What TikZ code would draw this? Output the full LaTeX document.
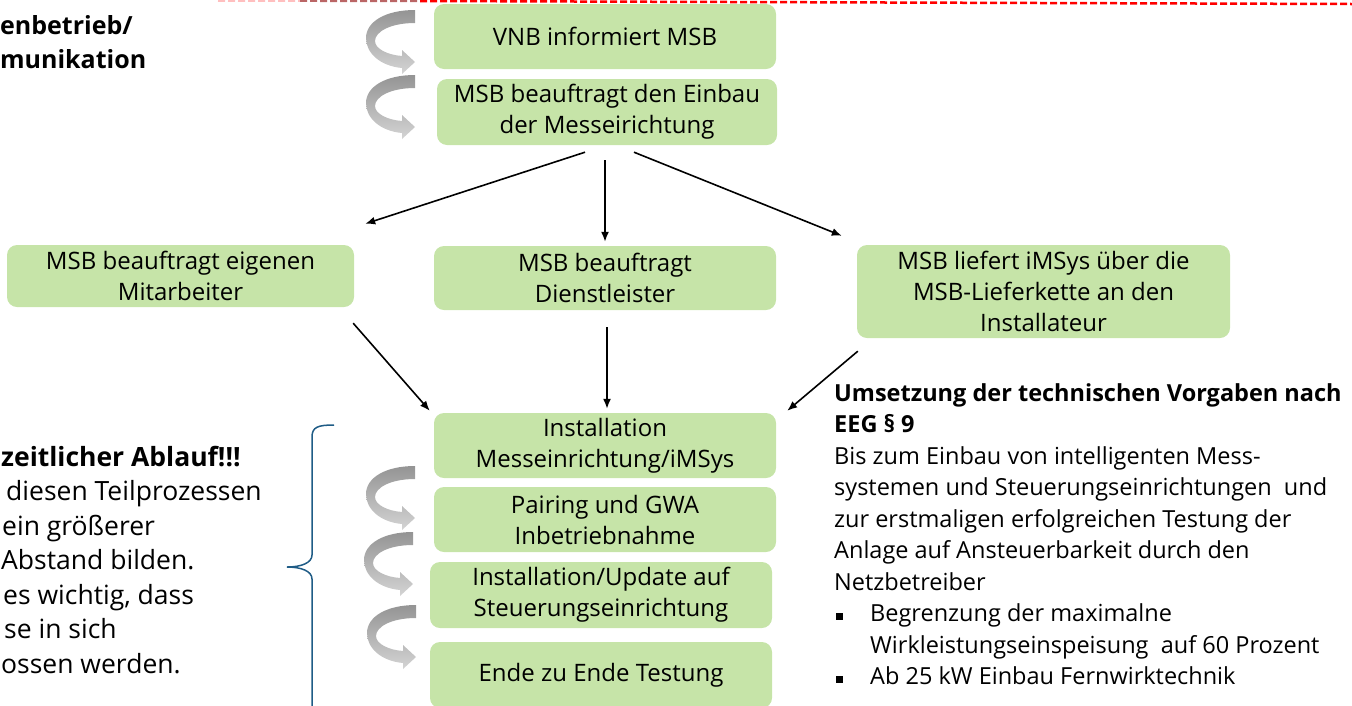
\documentclass[tikz,border=0pt]{standalone}
\usepackage{fontspec}
\setmainfont{Open Sans}
\usepackage{tikz}
\usetikzlibrary{arrows.meta}
\definecolor{boxgreen}{HTML}{C6E4A8}
\definecolor{bracecol}{HTML}{1F5C86}
\def\bendarrow(#1){\shade[top color=black!42, bottom color=black!17, shift={(#1)}] (0,0) -- (0,13) .. controls (-25,13) and (-40,22) .. (-40,31) .. controls (-40,39) and (-27,45) .. (-13,46) -- (-13,40) -- (0,52) -- (-13,64) -- (-13,58) .. controls (-35,56) and (-49,43) .. (-49,28) .. controls (-49,12) and (-30,0) .. (0,0) -- cycle;}

\begin{document}
\begin{tikzpicture}[x=1pt, y=-1pt,
	box/.style={fill=boxgreen, rounded corners=10pt, align=center, inner sep=0pt, font=\fontsize{24}{31}\selectfont},
	arr/.style={-{Latex[length=10pt,width=8pt]}, line width=1.6pt},
	side/.style={anchor=base west, inner sep=0pt, font=\fontsize{26.5}{35}\selectfont}]
		%%%%% START %%%%%
		\useasboundingbox (0,0) rectangle (1352,705);
		
		\draw[red!25, line width=2.5pt, dash pattern=on 7pt off 3pt] (218,0.5) -- (300,0.7);
		\draw[red!55!black!60, line width=2.5pt, dash pattern=on 7pt off 3pt] (300,0.7) -- (420,1);
		\draw[red, line width=2.5pt, dash pattern=on 7pt off 3pt] (420,1) -- (1352,4);
		
		\node[anchor=base west, inner sep=0pt, font=\fontsize{25}{35}\selectfont\bfseries] (betrieb) at (0,34) {enbetrieb/};
		\node[anchor=base west, inner sep=0pt, font=\fontsize{25}{35}\selectfont\bfseries] (kommunikation) at (0,68) {munikation};
		
		\node[box, minimum width=342, minimum height=65] (vnb) at (605,36.5) {VNB informiert MSB};
		\node[box, minimum width=340, minimum height=66] (einbau) at (607,112) {MSB beauftragt den Einbau\\der Messeirichtung};
		
		\node[box, minimum width=347, minimum height=62] (eigen) at (180.5,276) {MSB beauftragt eigenen\\Mitarbeiter};
		\node[box, minimum width=342, minimum height=64] (dienst) at (605,278) {MSB beauftragt\\Dienstleister};
		\node[box, minimum width=373, minimum height=93] (liefert) at (1043.5,291.5) {MSB liefert iMSys über die\\MSB-Lieferkette an den\\Installateur};
		
		\node[box, minimum width=342, minimum height=65] (install) at (605,445.5) {Installation\\Messeinrichtung/iMSys};
		\node[box, minimum width=342, minimum height=65] (pairing) at (605,519.5) {Pairing und GWA\\Inbetriebnahme};
		\node[box, minimum width=342, minimum height=66] (update) at (601,595) {Installation/Update auf\\Steuerungseinrichtung};
		\node[box, minimum width=342, minimum height=66] (ende) at (601,675) {Ende zu Ende Testung};
		
		\draw[arr] ([shift={(-22,7)}]einbau.south) -- ([shift={(11,-21)}]eigen.north east);
		\draw[arr] ([shift={(-2,15)}]einbau.south) -- ([shift={(0,-4)}]dienst.north);
		\draw[arr] ([shift={(27,7)}]einbau.south) -- ([shift={(-15,-9)}]liefert.north west);
		
		\draw[arr] ([shift={(-1,16)}]eigen.south east) -- ([shift={(-4,-2)}]install.north west);
		\draw[arr] ([shift={(2,17)}]dienst.south) -- ([shift={(2,-4)}]install.north);
		\draw[arr] ([shift={(1,13)}]liefert.south west) -- ([shift={(11,-2)}]install.north east);
		
		\bendarrow(415,10)
		\bendarrow(415,75)
		\bendarrow(415,466)
		\bendarrow(413,532)
		\bendarrow(416,605)
		
		\draw[bracecol, line width=1.5pt] (334,425) .. controls (318,425) and (312,427) .. (312,437) -- (312,555) .. controls (312,563) and (301,567) .. (287,567) .. controls (301,567) and (312,571) .. (312,579) -- (312,710);
		
		\node[side, font=\fontsize{26.5}{35}\selectfont\bfseries] (ablauf) at (1,466) {zeitlicher Ablauf!!!};
		\node[side] (zeile1) at (6,500.5) {diesen Teilprozessen};
		\node[side] (zeile2) at (2,535) {ein größerer};
		\node[side] (zeile3) at (1,569.5) {Abstand bilden.};
		\node[side] (zeile4) at (3,604) {es wichtig, dass};
		\node[side] (zeile5) at (4,638.5) {se in sich};
		\node[side] (zeile6) at (1,673) {ossen werden.};
		
		\node[anchor=north west, align=left, inner sep=0pt, font=\fontsize{23.5}{31.5}\selectfont] (vorgaben) at (834,383) {\textbf{Umsetzung der technischen Vorgaben nach}\\\textbf{EEG § 9}\\Bis zum Einbau von intelligenten Mess-\\systemen und Steuerungseinrichtungen \ und\\zur erstmaligen erfolgreichen Testung der\\Anlage auf Ansteuerbarkeit durch den\\Netzbetreiber\\\makebox[36pt][l]{\hspace{2pt}\rule[2pt]{7pt}{7pt}}Begrenzung der maximalne\\\hspace*{36pt}Wirkleistungseinspeisung \ auf 60 Prozent\\\makebox[36pt][l]{\hspace{2pt}\rule[2pt]{7pt}{7pt}}Ab 25 kW Einbau Fernwirktechnik};
		
		%%%%% END %%%%%
\end{tikzpicture}
\end{document}
